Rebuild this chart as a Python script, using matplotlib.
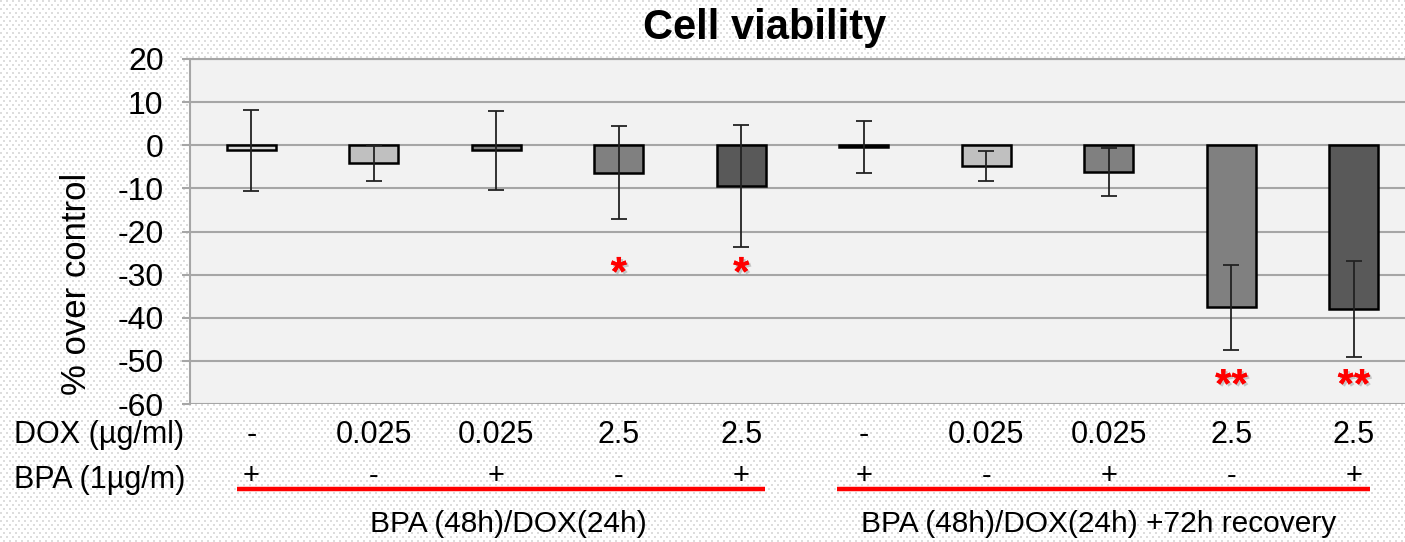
import numpy as np
import matplotlib
matplotlib.use("Agg")
import matplotlib.pyplot as plt
import matplotlib.patheffects as pe
from matplotlib import font_manager

# data (% over control, mean and error)
means = [-1.2, -4.1, -1.2, -6.4, -9.5, -0.4, -4.9, -6.2, -37.6, -38.0]
errors = [9.4, 4.2, 9.2, 10.8, 14.1, 6.0, 3.5, 5.5, 9.9, 11.2]
bar_colors = ["#d9d9d9", "#c0c0c0", "#808080", "#808080", "#595959",
              "#d9d9d9", "#c0c0c0", "#808080", "#808080", "#595959"]
dox_labels = ["-", "0.025", "0.025", "2.5", "2.5", "-", "0.025", "0.025", "2.5", "2.5"]
bpa_labels = ["+", "-", "+", "-", "+", "+", "-", "+", "-", "+"]
groups = ["BPA (48h)/DOX(24h)", "BPA (48h)/DOX(24h) +72h recovery"]
group_spans = [(-0.12, 4.19), (4.78, 9.13)]
group_centers = [2.1, 6.92]
stars = {3: "*", 4: "*", 8: "**", 9: "**"}
star_y = {3: -30.0, 4: -30.0, 8: -56.0, 9: -56.0}
yticks = np.arange(-60, 21, 10)

W, H = 1405, 542
fig = plt.figure(figsize=(W / 100, H / 100), dpi=100)

# speckled background like the original slide
bg = np.ones((H, W, 3))
for r in range(0, H, 4):
    off = 0 if (r // 4) % 2 == 0 else 3
    bg[r:r + 2, off::6] = 0.87
    bg[r:r + 2, off + 1::6] = 0.87
fig.figimage(bg, 0, 0, zorder=0)

names = {f.name for f in font_manager.fontManager.ttflist}
base = "Liberation Sans" if "Liberation Sans" in names else "DejaVu Sans"
plt.rcParams["font.family"] = [base, "DejaVu Sans"]
plt.rcParams["axes.unicode_minus"] = False


def fy(px):
    return 1 - px / H


ax = fig.add_axes([190 / W, fy(404), 1225 / W, 345 / H])
ax.set_facecolor("#f2f2f2")
ax.set_zorder(1)

x = np.arange(len(means))
ax.bar(x, means, width=0.4, color=bar_colors, edgecolor="black", linewidth=1.8, zorder=3)
ax.errorbar(x, means, yerr=errors, fmt="none", ecolor="#222222", elinewidth=1.3,
            capsize=6, capthick=1.3, zorder=4)

ax.set_xlim(-0.5, 9.5)
ax.set_ylim(-60, 20)
ax.set_yticks(yticks)
ax.set_xticks([])
ax.yaxis.grid(True, color="#a6a6a6", linewidth=1.5, zorder=0)
ax.set_axisbelow(True)
for s in ["right", "bottom"]:
    ax.spines[s].set_visible(False)
for s in ["top", "left"]:
    ax.spines[s].set_color("#a6a6a6")
    ax.spines[s].set_linewidth(1.5)
ax.tick_params(axis="y", length=6, width=1.5, color="#a6a6a6", pad=13, labelsize=23)

fig.text(76 / W, fy(284), "% over control", rotation=90, ha="center", va="center", fontsize=25)
fig.text(765 / W, fy(28), "Cell viability", ha="center", va="center",
         fontsize=30, fontweight="bold")

for i, s in stars.items():
    ax.text(i, star_y[i], s, ha="center", va="center", color="red", fontsize=30,
            fontweight="bold", zorder=5,
            path_effects=[pe.withSimplePatchShadow(offset=(1.5, -1.5), shadow_rgbFace="#999999", alpha=0.5),
                          pe.Normal()])

tr = ax.get_xaxis_transform()


def ay(px):
    return (404 - px) / 345


fig.text(14 / W, fy(443), "DOX (µg/ml)", ha="left", va="baseline", fontsize=22)
fig.text(14 / W, fy(488), "BPA (1µg/m)", ha="left", va="baseline", fontsize=22)
for i in x:
    ax.text(i, ay(443), dox_labels[i], transform=tr, ha="center", va="baseline",
            fontsize=22, clip_on=False)
    ax.text(i, ay(484), bpa_labels[i], transform=tr, ha="center", va="baseline",
            fontsize=21, clip_on=False)

for (a, b), c, g in zip(group_spans, group_centers, groups):
    ax.plot([a, b], [ay(489), ay(489)], transform=tr, color="red", lw=3.2, clip_on=False,
            solid_capstyle="butt")
    ax.text(c, ay(532), g, transform=tr, ha="center", va="baseline",
            fontsize=21.5, clip_on=False)

fig.savefig("out.png", dpi=100)
